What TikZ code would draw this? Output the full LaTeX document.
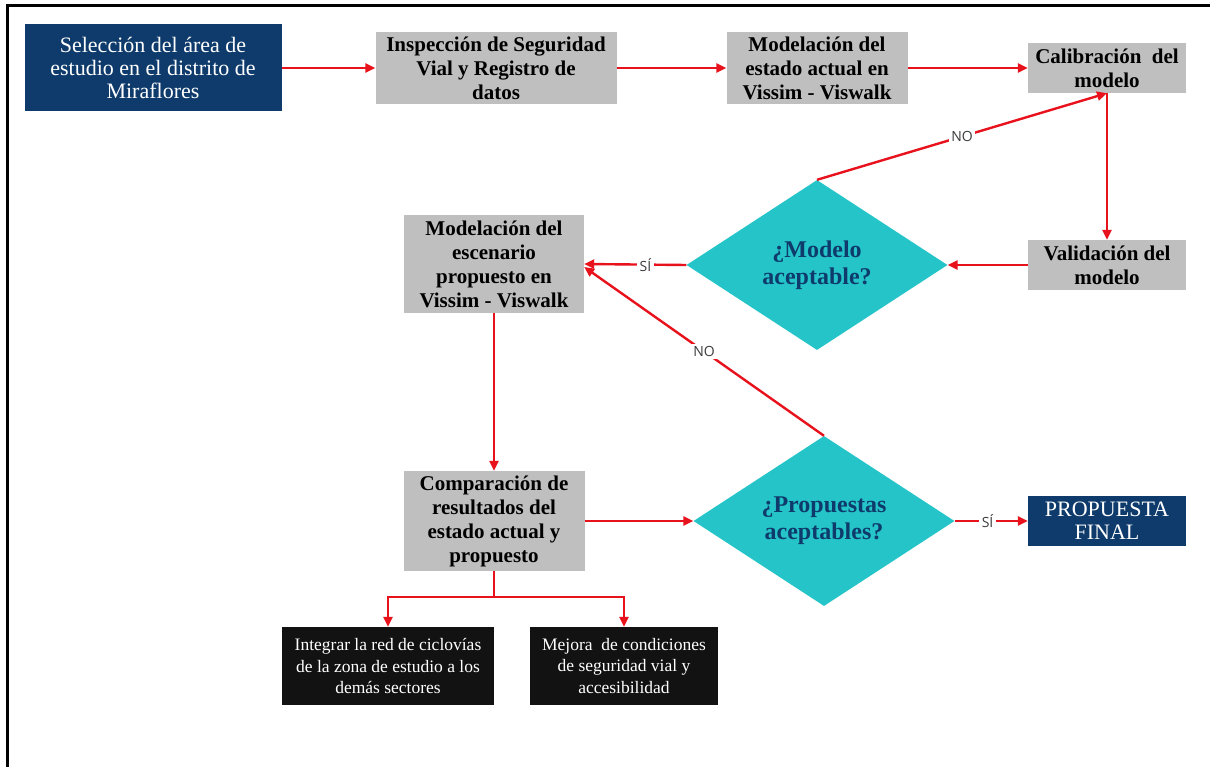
\documentclass[tikz,border=0pt]{standalone}
\usepackage{fontspec}
\setmainfont{Liberation Serif}
\newfontfamily\tagfont{Open Sans}
\usetikzlibrary{
    arrows.meta,
    positioning,
    shapes.geometric
}

\definecolor{navybox}{RGB}{14,59,107}
\definecolor{greybox}{RGB}{191,191,191}
\definecolor{cyandec}{RGB}{36,196,201}
\definecolor{flowred}{RGB}{232,18,28}
\definecolor{tagtext}{RGB}{60,60,60}

\begin{document}
\begin{tikzpicture}[
    x=1pt,
    y=-1pt,
    >={Triangle[length=10pt,width=9pt]},
    flow/.style={
        ->,
        draw=flowred,
        line width=2.4pt
    },
    startbox/.style={
        rectangle,
        fill=navybox,
        text=white,
        align=center,
        inner sep=0pt,
        font=\fontsize{22}{23}\selectfont
    },
    stepbox/.style={
        rectangle,
        fill=greybox,
        text=black,
        align=center,
        inner sep=0pt,
        font=\bfseries\fontsize{21}{24}\selectfont
    },
    decision/.style={
        diamond,
        aspect=1.54,
        fill=cyandec,
        text=navybox,
        align=center,
        inner sep=0pt,
        minimum width=261pt,
        minimum height=170pt,
        font=\bfseries\fontsize{24}{27}\selectfont
    },
    outcome/.style={
        rectangle,
        fill=black!93,
        text=white,
        align=center,
        inner sep=0pt,
        minimum width=212pt,
        minimum height=78pt,
        font=\fontsize{17.5}{21.5}\selectfont
    },
    tag/.style={
        fill=white,
        text=tagtext,
        inner sep=2.5pt,
        font=\tagfont\fontsize{14}{16}\selectfont
    }
]

\useasboundingbox (0,0) rectangle (1210,767);

% ============================================================
% FRAME
% ============================================================

\draw[black, line width=3pt]
    (7,767) -- (7,6) -- (1210,6);

% ============================================================
% TOP ROW
% ============================================================

\node[startbox, minimum width=257pt, minimum height=87pt]
    (select) at (153,68)
    {Selección del área de\\
     estudio en el distrito de\\
     Miraflores};

\node[stepbox, minimum width=241pt, minimum height=72pt]
    (inspect) at (496,68)
    {Inspección de Seguridad\\
     Vial y Registro de\\
     datos};

\node[stepbox, minimum width=181pt, minimum height=72pt]
    (current) at (817,68)
    {Modelación del\\
     estado actual en\\
     Vissim - Viswalk};

\node[stepbox, minimum width=158pt, minimum height=50pt]
    (calib) at (1107,68)
    {Calibración\ \ del\\
     modelo};

% ============================================================
% MIDDLE ROW
% ============================================================

\node[stepbox, minimum width=158pt, minimum height=50pt]
    (valid) at (1107,265)
    {Validación del\\
     modelo};

\node[decision]
    (modelok) at (817,265)
    {¿Modelo\\
     aceptable?};

\node[stepbox, minimum width=180pt, minimum height=98pt]
    (scenario) at (494,264)
    {Modelación del\\
     escenario\\
     propuesto en\\
     Vissim - Viswalk};

% ============================================================
% BOTTOM ROW
% ============================================================

\node[stepbox, minimum width=181pt, minimum height=100pt]
    (compare) at (494,521)
    {Comparación de\\
     resultados del\\
     estado actual y\\
     propuesto};

\node[decision]
    (proposalok) at (824,521)
    {¿Propuestas\\
     aceptables?};

\node[startbox, minimum width=158pt, minimum height=50pt]
    (final) at (1107,521)
    {PROPUESTA\\
     FINAL};

\node[outcome]
    (network) at (388,666)
    {Integrar la red de ciclovías\\
     de la zona de estudio a los\\
     demás sectores};

\node[outcome, minimum width=188pt]
    (safety) at (624,666)
    {Mejora\ \ de condiciones\\
     de seguridad vial y\\
     accesibilidad};

% ============================================================
% CONNECTORS
% ============================================================

\draw[flow] (select) -- (inspect);
\draw[flow] (inspect) -- (current);
\draw[flow] (current) -- (calib);
\draw[flow] (calib) -- (valid);
\draw[flow] (valid) -- (modelok.east);

% rejected model goes back to calibration
\draw[flow]
    (modelok.north) --
    node[tag] {NO}
    (calib.south);

\draw[flow]
    (modelok.west) --
    node[tag, pos=0.4] {SÍ}
    (scenario.east);

\draw[flow] (scenario) -- (compare);
\draw[flow] (compare.east) -- (proposalok.west);

% rejected proposals go back to the scenario
\draw[flow]
    (proposalok.north) --
    node[tag] {NO}
    ([yshift=-3pt]scenario.east);

\draw[flow]
    (proposalok.east) --
    node[tag, pos=0.45] {SÍ}
    (final.west);

% branch to the two outcomes
\draw[flowred, line width=2.4pt]
    (compare.south) -- ++(0,26) coordinate (split);

\draw[flow] (split) -| (network.north);
\draw[flow] (split) -| (safety.north);

\end{tikzpicture}
\end{document}
